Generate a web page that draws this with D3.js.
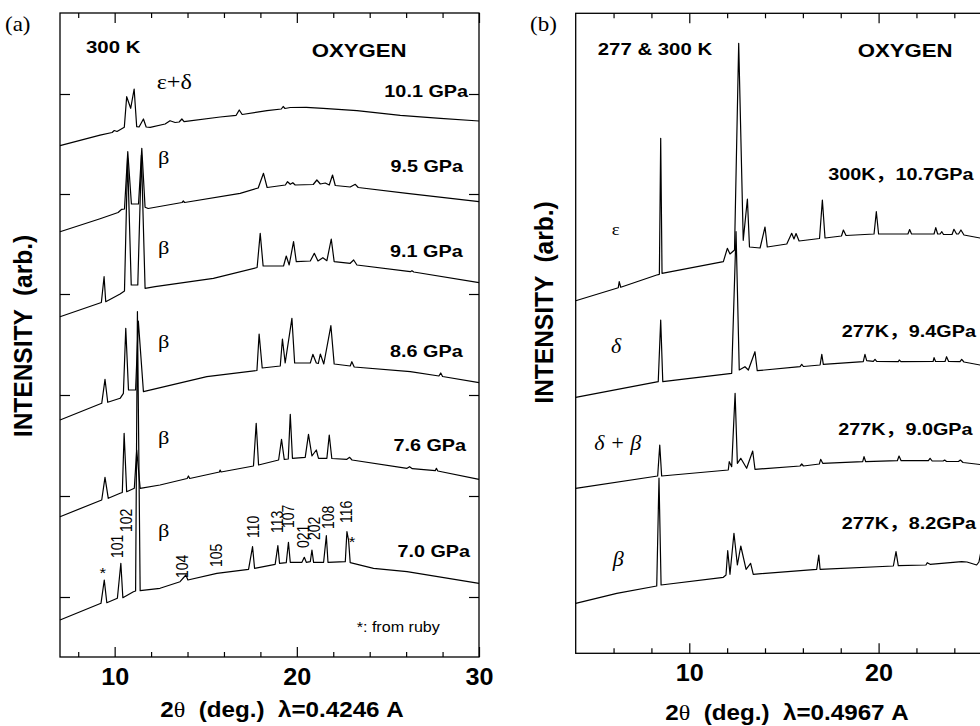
<!DOCTYPE html>
<html>
<head>
<meta charset="utf-8">
<script src="https://cdn.jsdelivr.net/npm/d3@7"></script>
<style>
  body { margin: 0; background: #fff; }
  svg { display: block; }
</style>
</head>
<body>
<script>
// ---- data (2theta in degrees, intensity in arbitrary units) ----
// panel (a), 300 K, lambda = 0.4246 A
const a_101 = [[7.0,51.13],[9.2,52.18],[9.86,52.45],[9.98,52.65],[10.13,52.55],[10.53,52.97],[10.66,56.03],[10.88,54.87],[11.07,56.8],[11.21,53.03],[11.34,53.0],[11.58,53.8],[11.73,53.0],[11.95,52.97],[12.77,53.3],[13.04,53.63],[13.32,53.45],[13.54,53.5],[13.69,53.8],[13.81,53.53],[15.79,54.0],[16.67,54.17],[16.84,54.7],[17.0,54.25],[18.36,54.63],[19.15,54.8],[19.25,55.05],[19.35,54.85],[19.64,54.95],[20.52,54.97],[21.45,54.87],[23.3,54.63],[25.68,54.17],[27.88,53.87],[30.0,53.6]];
const a_95 = [[7.0,42.53],[9.2,43.83],[10.19,44.45],[10.39,44.77],[10.54,44.8],[10.72,50.53],[10.92,45.3],[11.31,45.3],[11.49,50.87],[11.67,44.97],[11.84,44.85],[13.7,45.45],[13.77,45.6],[13.84,45.45],[16.89,46.37],[17.88,46.9],[18.17,48.37],[18.37,46.95],[19.37,47.2],[19.49,47.53],[19.64,47.27],[19.78,47.43],[19.91,47.2],[20.9,47.25],[21.1,47.7],[21.29,47.3],[21.56,47.4],[21.78,47.2],[21.96,48.2],[22.11,47.15],[22.93,47.0],[23.21,47.27],[23.37,46.95],[26.05,46.37],[30.0,45.53]];
const a_91 = [[7.0,34.03],[9.27,35.45],[9.42,38.03],[9.51,35.53],[10.3,36.3],[10.48,36.53],[10.54,36.6],[10.71,49.9],[10.91,37.2],[11.27,37.2],[11.47,50.2],[11.67,36.87],[12.22,37.03],[15.42,37.87],[17.82,38.95],[17.99,42.37],[18.15,39.1],[19.27,39.1],[19.42,40.1],[19.58,39.2],[19.82,41.53],[19.97,39.53],[20.74,39.6],[20.96,40.37],[21.16,39.6],[21.43,39.93],[21.65,39.63],[21.89,41.8],[22.05,39.53],[22.93,39.37],[23.12,39.7],[23.3,39.2],[26.23,38.53],[26.32,38.63],[26.42,38.5],[30.0,37.43]];
const a_86 = [[7.0,23.7],[9.29,25.37],[9.47,27.77],[9.62,25.47],[10.3,25.87],[10.48,26.37],[10.61,32.87],[10.76,26.7],[11.15,26.7],[11.3,33.6],[11.58,26.53],[15.06,28.03],[17.81,28.65],[17.93,32.3],[18.1,28.9],[19.09,29.1],[19.21,31.8],[19.36,29.4],[19.73,33.87],[19.88,29.4],[20.74,29.4],[20.88,30.27],[21.07,29.4],[21.18,29.35],[21.29,30.3],[21.48,29.3],[21.87,33.13],[22.05,29.3],[22.93,29.1],[23.02,29.53],[23.15,29.0],[26.23,28.53],[27.8,28.1],[27.9,28.4],[28.0,28.05],[30.0,27.43]];
const a_76 = [[7.0,14.03],[9.29,15.7],[9.47,17.97],[9.65,15.87],[10.3,16.37],[10.42,16.45],[10.52,22.37],[10.66,16.53],[11.08,16.87],[11.21,20.7],[11.4,16.87],[12.49,17.2],[13.98,17.85],[14.05,18.1],[14.12,17.85],[15.75,18.5],[15.79,18.7],[15.84,18.5],[17.62,19.1],[17.77,23.37],[17.9,19.2],[19.0,19.7],[19.16,21.77],[19.31,19.77],[19.53,19.8],[19.64,24.27],[19.76,19.87],[20.46,19.97],[20.64,22.27],[20.83,20.1],[21.07,20.7],[21.19,19.87],[21.65,19.87],[21.78,22.2],[21.92,19.85],[22.75,19.77],[22.9,19.97],[23.03,19.7],[26.05,18.87],[26.19,19.03],[26.34,18.83],[27.6,18.63],[27.66,18.87],[27.74,18.6],[30.0,17.77]];
const a_70 = [[7.0,3.7],[9.25,5.37],[9.43,7.7],[9.57,5.43],[10.15,5.87],[10.34,9.37],[10.45,5.93],[11.03,6.53],[11.15,6.6],[11.25,34.53],[11.4,6.63],[12.49,6.87],[13.59,7.53],[13.91,8.2],[14.02,7.7],[15.61,8.37],[17.35,8.77],[17.57,11.03],[17.68,8.87],[18.81,9.27],[18.96,11.13],[19.05,9.37],[19.42,9.43],[19.54,11.47],[19.64,9.47],[20.28,9.47],[20.41,9.97],[20.52,9.47],[20.74,9.53],[20.83,10.7],[20.92,9.47],[21.47,9.47],[21.62,12.13],[21.71,9.47],[22.66,9.53],[22.75,12.53],[22.84,11.7],[22.93,9.43],[24.21,8.87],[26.05,8.53],[30.0,7.37]];

const pressuresA = ["10.1 GPa", "9.5 GPa", "9.1 GPa", "8.6 GPa", "7.6 GPa", "7.0 GPa"];
const phasesA = ["ε+δ", "β", "β", "β", "β", "β"];
// hkl reflections of beta at 7.0 GPa: [label, 2theta, label base intensity]
const hklA = [["101",10.12,9.9],["102",10.63,12.5],["104",13.69,7.9],["105",15.55,9.0],["110",17.62,11.9],["113",18.94,12.4],["107",19.54,12.9],["021",20.37,10.9],["202",20.96,11.7],["108",21.69,12.8],["116",22.71,13.4]];
const rubyA = [[9.35,7.9],[23.03,11.0]];

// panel (b), 277 & 300 K, lambda = 0.4967 A
const b_107 = [[4.0,35.26],[6.25,36.56],[6.3,37.16],[6.38,36.6],[8.28,37.83],[8.42,37.9],[8.49,51.5],[8.56,38.0],[11.8,39.16],[12.01,40.5],[12.15,39.93],[12.39,40.33],[12.61,61.0],[12.85,41.3],[13.07,45.43],[13.18,40.63],[13.74,40.53],[14.0,42.63],[14.12,40.63],[15.15,40.93],[15.41,42.0],[15.53,41.43],[15.64,41.98],[15.8,41.23],[16.88,41.48],[17.03,45.33],[17.17,41.53],[18.04,41.73],[18.14,42.33],[18.28,41.78],[19.76,41.93],[19.88,44.16],[20.0,41.93],[21.55,41.93],[21.64,42.38],[21.74,41.93],[22.93,41.93],[23.02,42.56],[23.12,41.93],[23.25,41.93],[23.34,42.16],[23.43,41.88],[23.88,41.88],[23.98,42.4],[24.12,41.93],[24.22,41.93],[24.35,42.33],[24.51,41.83],[25.36,41.53],[26.0,41.3]];
const b_94 = [[4.0,25.6],[8.36,27.16],[8.49,33.33],[8.6,27.16],[12.24,28.0],[12.47,42.16],[12.64,28.33],[12.94,28.66],[13.12,28.33],[13.47,30.16],[13.59,28.26],[15.85,28.66],[15.94,28.9],[16.03,28.68],[16.91,28.83],[17.0,29.9],[17.08,28.9],[19.19,29.16],[19.28,29.9],[19.37,29.26],[19.72,29.2],[19.81,29.4],[19.9,29.2],[21.04,29.16],[21.09,29.33],[21.18,29.16],[22.88,29.18],[22.93,29.56],[23.01,29.18],[23.51,29.18],[23.59,29.66],[23.7,29.18],[24.3,29.16],[24.39,29.4],[24.51,29.13],[25.36,28.83],[26.0,28.7]];
const b_90 = [[4.0,16.5],[8.33,17.73],[8.44,20.83],[8.54,17.73],[12.06,18.33],[12.11,19.16],[12.24,18.66],[12.42,26.0],[12.54,19.0],[12.72,19.5],[13.03,18.5],[13.35,20.23],[13.47,18.4],[15.85,18.73],[15.94,18.93],[16.03,18.73],[16.87,18.93],[16.94,19.4],[17.05,19.0],[19.16,19.16],[19.23,19.66],[19.32,19.16],[20.99,19.26],[21.08,19.73],[21.19,19.26],[22.63,19.26],[22.72,19.5],[22.83,19.23],[23.41,19.23],[23.49,19.33],[23.59,19.18],[24.22,19.18],[24.32,19.33],[24.46,19.08],[25.36,18.88],[26.0,18.8]];
const b_82 = [[4.0,5.0],[6.17,6.0],[8.28,6.73],[8.4,17.53],[8.51,6.83],[11.8,7.6],[11.94,7.83],[12.03,10.26],[12.15,7.9],[12.36,12.0],[12.54,8.83],[12.72,10.73],[13.0,8.4],[13.24,9.0],[13.38,7.9],[16.73,8.4],[16.84,9.83],[16.91,8.4],[20.78,8.73],[20.92,10.16],[21.04,8.76],[22.5,8.83],[22.57,9.06],[22.72,8.9],[24.39,9.16],[24.67,9.13],[25.18,8.83],[25.3,9.13],[25.45,10.6],[25.55,8.9],[26.0,8.8]];

const conditionsB = ["300K，10.7GPa", "277K，9.4GPa", "277K，9.0GPa", "277K，8.2GPa"];

const xMajorA = [10, 20, 30], xMinorA = [8, 12, 14, 16, 18, 22, 24, 26, 28];
const xMajorB = [10, 20], xMinorB = [6, 8, 12, 14, 16, 18, 22, 24, 26];
const yTicksA = [6, 16.1, 26.2, 36.3, 46.3, 56.3];

// ---- drawing ----
const SANS = "'Liberation Sans', Arial, Helvetica, 'Noto Sans CJK SC', sans-serif";
const SERIF = "'Liberation Serif', 'Times New Roman', 'DejaVu Serif', serif";

const svg = d3.select("body").append("svg").attr("width", 980).attr("height", 726);
svg.append("rect").attr("width", 980).attr("height", 726).attr("fill", "#fff");

const xA = d3.scaleLinear().domain([7, 30]).range([60, 479]);
const yA = d3.scaleLinear().domain([0, 64.4]).range([657, 13]);
const xB = d3.scaleLinear().domain([4, 30]).range([575.7, 1067.9]);
const yB = d3.scaleLinear().domain([0, 64]).range([653.3, 13.3]);

// text helper: the original figure is stretched horizontally a little
function label(x, y, s, o = {}) {
  return svg.append("text")
    .attr("transform", `translate(${x},${y}) scale(${o.sx || 1.2},1)` + (o.rot ? " rotate(-90)" : ""))
    .attr("font-family", o.ff || SANS)
    .attr("font-size", o.fs || 17)
    .attr("font-weight", o.fw || "bold")
    .attr("font-style", o.it ? "italic" : "normal")
    .attr("text-anchor", o.anchor || "start")
    .style("white-space", "pre")
    .text(s);
}

function drawAxes(x, y, xMajor, xMinor, yTicks) {
  const [x0, x1] = x.range(), [y0, y1] = y.range();
  const styleTicks = (g) => {
    g.select(".domain").remove();
    g.selectAll("line").attr("stroke-width", 1.2);
  };
  svg.append("g").attr("transform", `translate(0,${y0})`)
    .call(d3.axisBottom(x).tickValues(xMajor).tickSize(-10).tickSizeOuter(0).tickPadding(11).tickFormat(d3.format("d")))
    .call(styleTicks)
    .selectAll("text")
    .attr("font-family", SANS).attr("font-size", 24).attr("font-weight", "bold")
    .attr("transform", "scale(1.05,1)");
  svg.append("g").attr("transform", `translate(0,${y0})`)
    .call(d3.axisBottom(x).tickValues(xMinor).tickSize(-5).tickSizeOuter(0).tickFormat(""))
    .call(styleTicks);
  svg.append("g").attr("transform", `translate(0,${y1})`)
    .call(d3.axisTop(x).tickValues(xMajor).tickSize(-10).tickSizeOuter(0).tickFormat(""))
    .call(styleTicks);
  svg.append("g").attr("transform", `translate(0,${y1})`)
    .call(d3.axisTop(x).tickValues(xMinor).tickSize(-5).tickSizeOuter(0).tickFormat(""))
    .call(styleTicks);
  if (yTicks) {
    svg.append("g").attr("transform", `translate(${x0},0)`)
      .call(d3.axisLeft(y).tickValues(yTicks).tickSize(-10).tickSizeOuter(0).tickFormat(""))
      .call(styleTicks);
    svg.append("g").attr("transform", `translate(${x1},0)`)
      .call(d3.axisRight(y).tickValues(yTicks).tickSize(-10).tickSizeOuter(0).tickFormat(""))
      .call(styleTicks);
  }
  svg.append("rect")
    .attr("x", x0).attr("y", y1)
    .attr("width", x1 - x0).attr("height", y0 - y1)
    .attr("fill", "none").attr("stroke", "#000").attr("stroke-width", 1.3);
}

function drawTraces(x, y, traces) {
  const line = d3.line().x((d) => x(d[0])).y((d) => y(d[1]));
  svg.selectAll(null)
    .data(traces)
    .enter()
    .append("path")
    .attr("d", line)
    .attr("fill", "none")
    .attr("stroke", "#000")
    .attr("stroke-width", 1.2)
    .attr("stroke-linejoin", "round");
}

// panel (a)
drawAxes(xA, yA, xMajorA, xMinorA, yTicksA);
drawTraces(xA, yA, [a_101, a_95, a_91, a_86, a_76, a_70]);

label(5, 31, "(a)", { ff: SERIF, fw: "normal", fs: 20, sx: 1.15 });
label(86, 52.7, "300 K", { fs: 17 });
label(311.7, 56.7, "OXYGEN", { fs: 18.5 });

const gpaPosA = [[468, 97], [463, 171.7], [462.7, 257.3], [462.7, 356.7], [466, 451], [470, 556.7]];
pressuresA.forEach((p, i) => label(gpaPosA[i][0], gpaPosA[i][1], p, { fs: 16.5, anchor: "end" }));
const phasePosA = [[156.7, 89], [158, 164], [158, 254], [158, 347.6], [158, 444], [158, 537]];
phasesA.forEach((p, i) => label(phasePosA[i][0], phasePosA[i][1], p, { ff: SERIF, fw: "normal", fs: i === 0 ? 21 : 19.5, sx: 1.15 }));

hklA.forEach(([h, t, v]) =>
  label(xA(t), yA(v), h, { fw: "normal", fs: 14, rot: true }).attr("dy", "0.35em"));
rubyA.forEach(([t, v]) => label(xA(t), yA(v), "*", { fw: "normal", fs: 14, anchor: "middle" }));
label(356.7, 631.7, "*: from ruby", { fw: "normal", fs: 14, sx: 1.15 });

label(32, 336, "INTENSITY  (arb.)", { fs: 24.5, rot: true, anchor: "middle", sx: 1.05 });
const titleA = label(282, 717, "", { fs: 22, anchor: "middle", sx: 1.1 });
titleA.append("tspan").text("2");
titleA.append("tspan").attr("font-family", SERIF).attr("font-weight", "normal").text("θ");
titleA.append("tspan").text("  (deg.)  λ=0.4246 A");

// panel (b)
drawAxes(xB, yB, xMajorB, xMinorB, null);
drawTraces(xB, yB, [b_107, b_94, b_90, b_82]);

label(530, 31, "(b)", { ff: SERIF, fw: "normal", fs: 20, sx: 1.15 });
label(597.7, 55, "277 & 300 K", { fs: 17 });
label(857.7, 57, "OXYGEN", { fs: 18.5 });

const condPosB = [[828.3, 180], [841.7, 336.7], [838.3, 435], [841.7, 529.3]];
conditionsB.forEach((c, i) => label(condPosB[i][0], condPosB[i][1], c, { fs: 16.5 }));

label(611.7, 235, "ε", { ff: SERIF, fw: "normal", fs: 17, sx: 1.1 });
label(611, 353, "δ", { ff: SERIF, fw: "normal", fs: 20, it: true, sx: 1.1 });
label(594.3, 450, "δ + β", { ff: SERIF, fw: "normal", fs: 20, it: true, sx: 1.1 });
label(612.7, 566, "β", { ff: SERIF, fw: "normal", fs: 20, it: true, sx: 1.1 });

label(553, 302.5, "INTENSITY  (arb.)", { fs: 24.5, rot: true, anchor: "middle", sx: 1.05 });
const titleB = label(787, 720, "", { fs: 22, anchor: "middle", sx: 1.1 });
titleB.append("tspan").text("2");
titleB.append("tspan").attr("font-family", SERIF).attr("font-weight", "normal").text("θ");
titleB.append("tspan").text("  (deg.)  λ=0.4967 A");
</script>
</body>
</html>
